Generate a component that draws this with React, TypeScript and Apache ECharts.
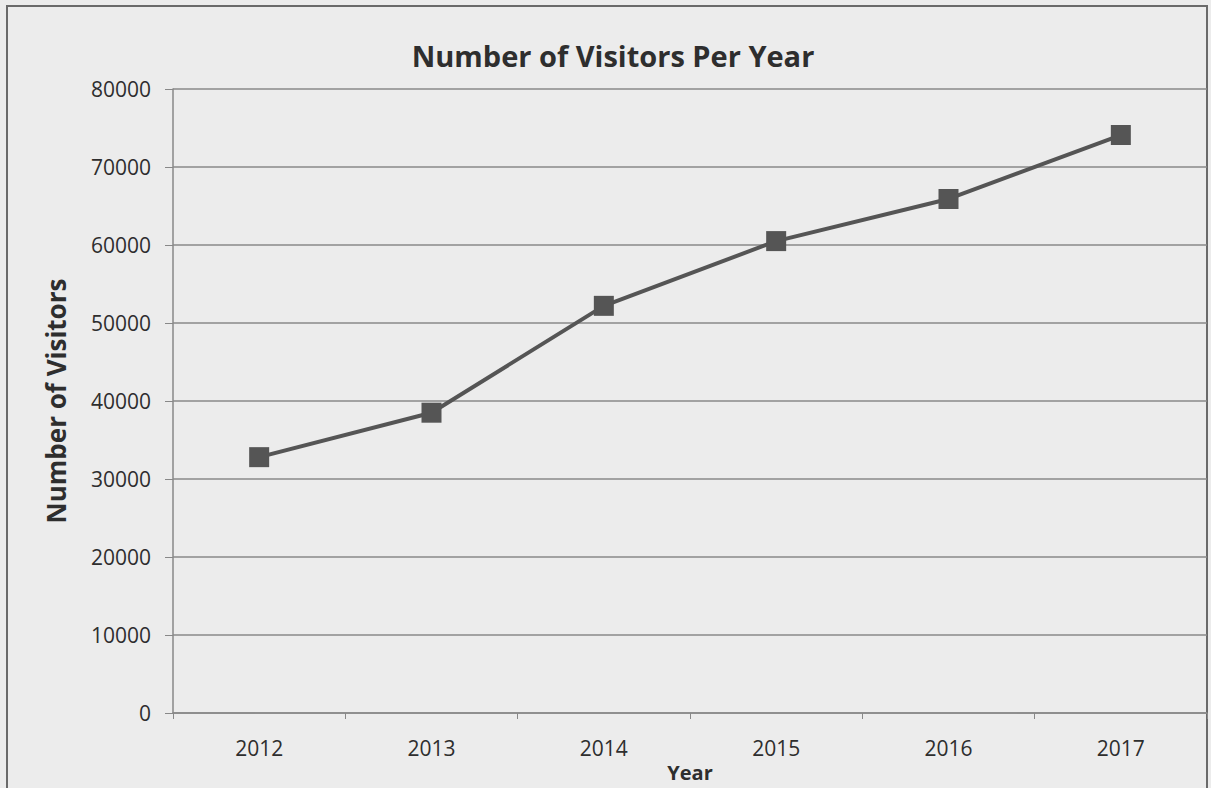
import React, { useEffect, useRef } from "react";
import * as echarts from "echarts";

const years = ["2012", "2013", "2014", "2015", "2016", "2017"];
const visitors = [32800, 38500, 52200, 60500, 65900, 74100];

export default function App() {
  const ref = useRef<HTMLDivElement>(null);
  useEffect(() => {
    const chart = echarts.init(ref.current!, null, { renderer: "svg" });
    const font = "'Open Sans', 'Liberation Sans', sans-serif";
    chart.setOption({
      animation: false,
      backgroundColor: "#ececec",
      title: {
        text: "Number of Visitors Per Year",
        left: 608,
        textAlign: "center",
        top: 36,
        textStyle: { fontFamily: font, fontSize: 29, fontWeight: "bold", color: "#2e2e2e" },
      },
      graphic: [
        {
          type: "rect",
          shape: { x: 7, y: 6, width: 1200, height: 800 },
          style: { fill: "none", stroke: "#6a6a6a", lineWidth: 2 },
          silent: true,
        },
      ],
      grid: {
        left: 173,
        right: 4,
        top: 89,
        bottom: 75,
        containLabel: false,
        outerBoundsMode: "none",
      },
      xAxis: {
        type: "category",
        data: years,
        boundaryGap: true,
        name: "Year",
        nameLocation: "middle",
        nameGap: 44,
        nameTextStyle: { fontFamily: font, fontSize: 20, fontWeight: "bold", color: "#2e2e2e" },
        axisLine: { lineStyle: { color: "#888", width: 1.5 } },
        axisTick: { show: true, inside: false, length: 6, lineStyle: { color: "#888" } },
        axisLabel: { fontFamily: font, fontSize: 21, color: "#2e2e2e", margin: 24 },
      },
      yAxis: {
        type: "value",
        min: 0,
        max: 80000,
        interval: 10000,
        name: "Number of Visitors",
        nameLocation: "middle",
        nameGap: 104,
        nameTextStyle: { fontFamily: font, fontSize: 26, fontWeight: "bold", color: "#2e2e2e" },
        axisLine: { show: true, lineStyle: { color: "#888", width: 1.5 } },
        axisTick: { show: true, inside: false, length: 8, lineStyle: { color: "#888" } },
        axisLabel: {
          fontFamily: font,
          fontSize: 21,
          color: "#2e2e2e",
          margin: 22,
          formatter: (v: number) => String(v),
        },
        splitLine: { lineStyle: { color: "#8a8a8a", width: 1.5 } },
      },
      series: [
        {
          type: "line",
          data: visitors,
          symbol: "rect",
          symbolSize: 20,
          lineStyle: { color: "#555", width: 4 },
          itemStyle: { color: "#555" },
        },
      ],
    });
    return () => chart.dispose();
  }, []);
  return (
    <div
      ref={ref}
      style={{ position: "fixed", left: 0, top: 0, width: 1211, height: 788 }}
    />
  );
}
